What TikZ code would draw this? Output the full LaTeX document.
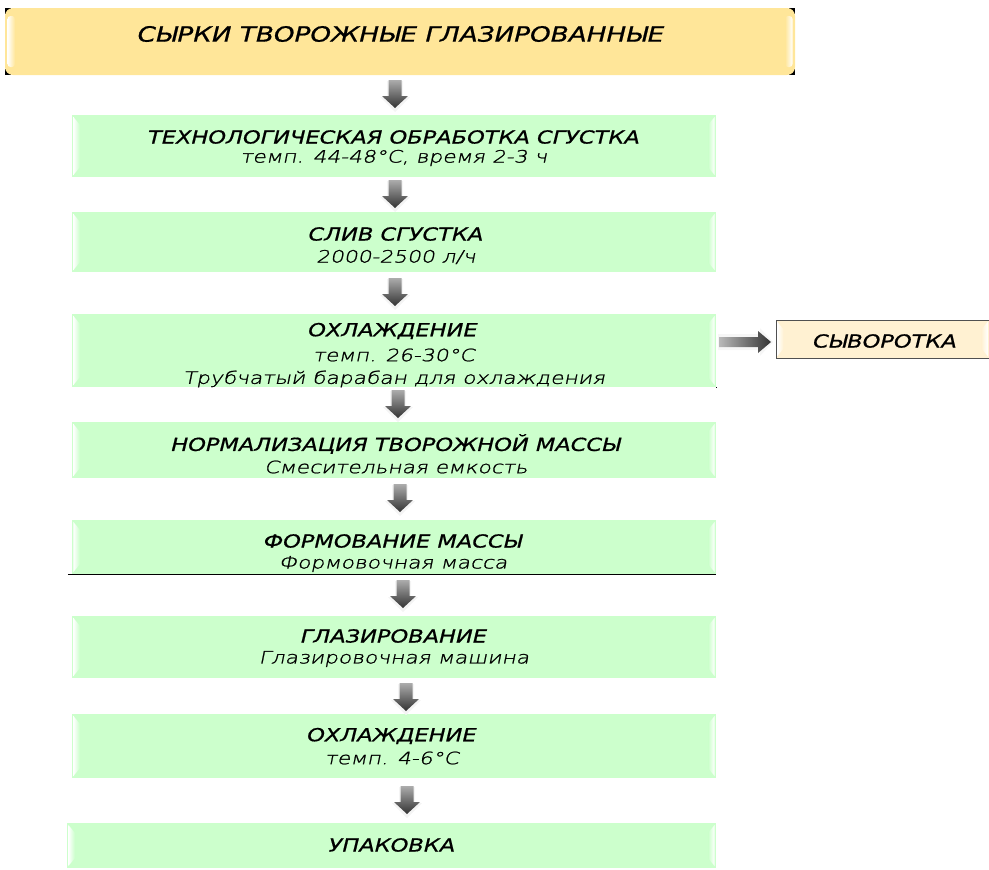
\documentclass[tikz,border=0pt]{standalone}
\usepackage{fontspec}
\usetikzlibrary{fit,calc}
\newfontfamily\headfont[FakeStretch=1.25,FakeBold=0.8]{DejaVu Sans}
\IfFontExistsTF{DejaVuSans-ExtraLight.ttf}
  {\newfontfamily\subfont[FakeStretch=1.28,FakeSlant=0.2,FakeBold=1.2]{DejaVuSans-ExtraLight.ttf}}
  {\newfontfamily\subfont[FakeStretch=1.28]{DejaVu Sans}}
\definecolor{boxgreen}{HTML}{CCFFCC}
\definecolor{titlefill}{HTML}{FFE699}
\definecolor{sidefill}{HTML}{FFF1D2}
\definecolor{sideline}{HTML}{505050}
\tikzset{
  stage/.style={fill=boxgreen, draw=none, inner sep=0pt},
  head/.style={font=\headfont\itshape\fontsize{18}{20}\selectfont, inner sep=0pt, anchor=center},
  sub/.style={font=\subfont\itshape\fontsize{17}{19}\selectfont, inner sep=0pt, anchor=center},
  downarr/.pic={
    \fill[gray!9] (-8,1) -- (8,1) -- (8,17) -- (15,17) -- (0,32) -- (-15,17) -- (-8,17) -- cycle;
    \shade[top color=gray!65, bottom color=black!80]
      (-6.5,0) -- (6.5,0) -- (6.5,16) -- (13,16) -- (0,28) -- (-13,16) -- (-6.5,16) -- cycle;
  },
}
% white bevel strips on the left and right edges of a stage box
\newcommand\bevels[2]{%
  \shade[left color=white, right color=#2]
    ($(#1.north west)+(1.5,2)$) -- ($(#1.north west)+(8,10)$) --
    ($(#1.south west)+(8,-10)$) -- ($(#1.south west)+(1.5,-2)$) -- cycle;
  \shade[left color=#2, right color=white]
    ($(#1.north east)+(-1.5,2)$) -- ($(#1.north east)+(-8,10)$) --
    ($(#1.south east)+(-8,-10)$) -- ($(#1.south east)+(-1.5,-2)$) -- cycle;
}
\begin{document}
\begin{tikzpicture}[x=1pt,y=-1pt]
\useasboundingbox (0,0) rectangle (989,870);

% ---- title box ----
\fill[black] (5,8) rectangle (11,14);
\fill[black] (5,69) rectangle (11,75);
\fill[black] (789,8) rectangle (795,14);
\fill[black] (789,69) rectangle (795,75);
\node[fill=titlefill, rounded corners=8pt, inner sep=0pt, fit={(5,8) (795,75)}] (title) {};
\shade[left color=white, right color=titlefill, rounded corners=3pt] (7.5,16) rectangle (15,67);
\shade[left color=titlefill, right color=white, rounded corners=3pt] (785,16) rectangle (792.5,67);
\node[head, font=\headfont\itshape\fontsize{21}{23}\selectfont] (titletext) at (401,34) {СЫРКИ ТВОРОЖНЫЕ ГЛАЗИРОВАННЫЕ};

% ---- process stages ----
\node[stage, fit={(72,115) (716,177)}] (b1) {};
\node[stage, fit={(72,212) (716,272)}] (b2) {};
\node[stage, fit={(72,314) (716,387)}] (b3) {};
\node[stage, fit={(72,422) (716,478)}] (b4) {};
\node[stage, fit={(72,520) (716,574)}] (b5) {};
\node[stage, fit={(72,616) (716,678)}] (b6) {};
\node[stage, fit={(72,714) (716,778)}] (b7) {};
\node[stage, fit={(67,823) (716,868)}] (b8) {};
\foreach \b in {b1,b2,b3,b4,b5,b6,b7,b8} {\bevels{\b}{boxgreen}}
\draw[black, line width=0.8pt] (b5.south west) ++(-4,0) -- (b5.south east);
\fill[black] (715.5,386.5) rectangle (716.5,387.5);

\node[head] (h1) at (394,137) {ТЕХНОЛОГИЧЕСКАЯ ОБРАБОТКА СГУСТКА};
\node[sub]  (s1) at (394,158) {темп. 44-48\textdegree C, время 2-3 ч};
\node[head] (h2) at (396,234) {СЛИВ СГУСТКА};
\node[sub]  (s2) at (396,257) {2000-2500 л/ч};
\node[head] (h3) at (393,331) {ОХЛАЖДЕНИЕ};
\node[sub]  (s3) at (394,355) {темп. 26-30\textdegree C};
\node[sub]  (s3b) at (394,379) {Трубчатый барабан для охлаждения};
\node[head] (h4) at (396,444) {НОРМАЛИЗАЦИЯ ТВОРОЖНОЙ МАССЫ};
\node[sub]  (s4) at (396,467) {Смесительная емкость};
\node[head] (h5) at (393,541) {ФОРМОВАНИЕ МАССЫ};
\node[sub]  (s5) at (393,564) {Формовочная масса};
\node[head] (h6) at (394,636) {ГЛАЗИРОВАНИЕ};
\node[sub]  (s6) at (394,659) {Глазировочная машина};
\node[head] (h7) at (392,736) {ОХЛАЖДЕНИЕ};
\node[sub]  (s7) at (392,758) {темп. 4-6\textdegree C};
\node[head] (h8) at (392,845) {УПАКОВКА};

% ---- by-product box ----
\node[fill=sidefill, draw=sideline, line width=0.7pt, inner sep=0pt, fit={(776,320) (989,358)}] (whey) {};
\bevels{whey}{sidefill}
\node[head] (wheytext) at (885,341) {СЫВОРОТКА};

% ---- flow arrows ----
\pic at (395,80) {downarr};
\pic at (395,180) {downarr};
\pic at (395,278) {downarr};
\pic at (398,390) {downarr};
\pic at (400,484) {downarr};
\pic at (403,580) {downarr};
\pic at (406,683) {downarr};
\pic at (407,786) {downarr};

% side arrow towards the whey box
\fill[gray!7] (718,334) -- (760,334) -- (760,328) -- (773,342) -- (760,356) -- (760,350) -- (718,350) -- cycle;
\shade[left color=gray!55, right color=black!80]
  (719,337) -- (758,337) -- (758,331) -- (771,342) -- (758,353) -- (758,347) -- (719,347) -- cycle;
\end{tikzpicture}
\end{document}
